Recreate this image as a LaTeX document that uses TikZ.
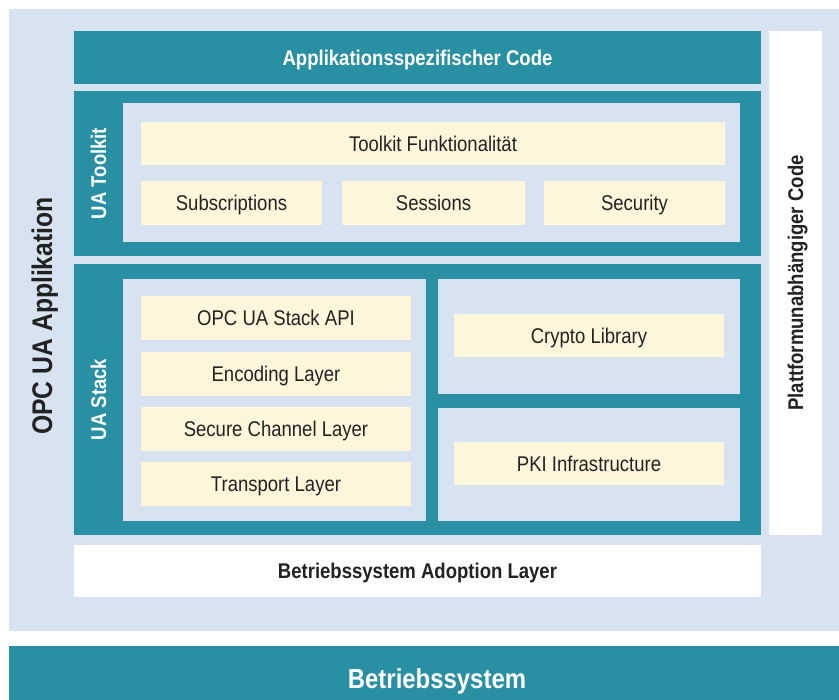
\documentclass[tikz,border=0pt]{standalone}
\usepackage{fontspec}
\setmainfont{Liberation Sans}[FakeStretch=0.87]
\usetikzlibrary{fit}
\definecolor{tealc}{RGB}{41,144,163}
\definecolor{lightb}{RGB}{215,227,241}
\definecolor{creamc}{RGB}{253,246,218}
\definecolor{txtc}{RGB}{34,34,34}
\tikzset{
  base/.style={inner sep=0pt, outer sep=0pt, draw=none},
  tealbox/.style={base, fill=tealc},
  lightbox/.style={base, fill=lightb},
  creambox/.style={base, fill=creamc},
  whitebox/.style={base, fill=white},
  lbl/.style={inner sep=0pt, text height=15.25pt, text depth=0pt, text=txtc, font=\fontsize{21.3}{25}\selectfont},
  blbl/.style={lbl, font=\bfseries\fontsize{21.3}{25}\selectfont},
  wlbl/.style={blbl, text=white},
  vlabel/.style={blbl, rotate=90},
}
\begin{document}
\begin{tikzpicture}[x=1pt,y=-1pt]
\useasboundingbox (0,0) rectangle (839,700);
\node[lightbox, fit={(9,9)(839,631)}] (bg) {};
\node[tealbox, fit={(9,646)(839,700)}] (os) {};
\node[text=white, font=\bfseries\fontsize{27.5}{32}\selectfont, inner sep=0pt, text height=19.7pt, text depth=0pt] (ostxt) at (437,678.5) {Betriebssystem};
\node[tealbox, fit={(74,31)(761,84)}] (app) {};
\node[wlbl] (apptxt) at (app.center) {Applikationsspezifischer Code};
\node[whitebox, fit={(769,31)(822,535)}] (plat) {};
\node[vlabel] (plattxt) at (plat.center) {Plattformunabhängiger Code};
% Toolkit
\node[tealbox, fit={(74,91)(761,256)}] (toolkit) {};
\node[vlabel, text=white] (toolkittxt) at (98.5,173.5) {UA Toolkit};
\node[lightbox, fit={(123,103)(740,242)}] (tkin) {};
\node[creambox, fit={(141,122)(725,165)}] (tkf) {};
\node[lbl] at (tkf.center) {Toolkit Funktionalität};
\node[creambox, fit={(141,181)(322,225)}] (subs) {};
\node[lbl] at (subs.center) {Subscriptions};
\node[creambox, fit={(342,181)(525,225)}] (sess) {};
\node[lbl] at (sess.center) {Sessions};
\node[creambox, fit={(544,181)(725,225)}] (sec) {};
\node[lbl] at (sec.center) {Security};
% Stack
\node[tealbox, fit={(74,264)(761,535)}] (stack) {};
\node[vlabel, text=white] (stacktxt) at (98.5,399.5) {UA Stack};
\node[lightbox, fit={(123,279)(426,521)}] (stl) {};
\node[creambox, fit={(141,296)(411,340)}] (api) {};
\node[lbl] at (api.center) {OPC UA Stack API};
\node[creambox, fit={(141,352)(411,396)}] (enc) {};
\node[lbl] at (enc.center) {Encoding Layer};
\node[creambox, fit={(141,407)(411,451)}] (scl) {};
\node[lbl] at (scl.center) {Secure Channel Layer};
\node[creambox, fit={(141,462)(411,506)}] (trl) {};
\node[lbl] at (trl.center) {Transport Layer};
\node[lightbox, fit={(438,279)(740,394)}] (str1) {};
\node[creambox, fit={(454,314)(724,357)}] (crypto) {};
\node[lbl] at (crypto.center) {Crypto Library};
\node[lightbox, fit={(438,408)(740,521)}] (str2) {};
\node[creambox, fit={(454,442)(724,485)}] (pki) {};
\node[lbl] at (pki.center) {PKI Infrastructure};
% Adoption layer
\node[whitebox, fit={(74,545)(761,597)}] (adopt) {};
\node[blbl] at (adopt.center) {Betriebssystem Adoption Layer};
% Big vertical label
\node[vlabel, text height=20.3pt, font=\bfseries\fontsize{28.4}{33}\selectfont] (opcua) at (42,316) {OPC UA Applikation};
\end{tikzpicture}
\end{document}
